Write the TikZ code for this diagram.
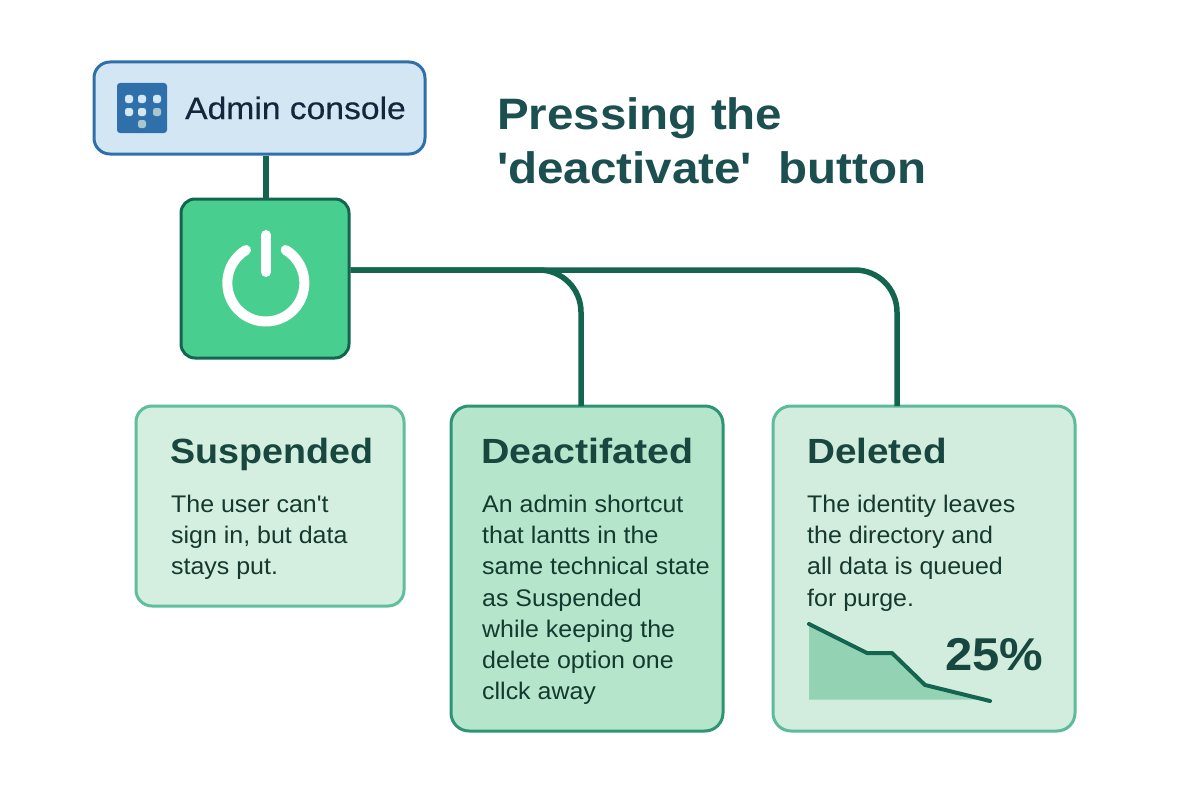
\documentclass[tikz,border=0pt]{standalone}
\usepackage{fontspec}
\setmainfont{Liberation Sans}
\newfontfamily\bodyf[FakeStretch=1.04]{Liberation Sans}
\newfontfamily\consolef[FakeStretch=1.085,FakeBold=0.5]{Liberation Sans}
\newfontfamily\headf[FakeStretch=1.075]{Liberation Sans}
\newfontfamily\headwf[FakeStretch=1.125]{Liberation Sans}
\newfontfamily\headmf[FakeStretch=1.105]{Liberation Sans}
\newfontfamily\titlef[FakeStretch=1.08]{Liberation Sans}
\newfontfamily\pctf[FakeStretch=1.065]{Liberation Sans}
\usetikzlibrary{calc}
\definecolor{ink}{HTML}{14392F}
\definecolor{headc}{HTML}{17473F}
\definecolor{titlec}{HTML}{1C4F50}
\definecolor{wire}{HTML}{14654F}
\definecolor{dotl}{HTML}{D3E6F4}
\definecolor{dotg}{HTML}{A9C6CC}
\definecolor{blueline}{HTML}{2F70AB}
\definecolor{bluefill}{HTML}{D3E6F4}
\definecolor{powerfill}{HTML}{48CF90}
\definecolor{suspline}{HTML}{5FBF9D}
\definecolor{suspfill}{HTML}{D4EEE0}
\definecolor{deactline}{HTML}{2E9474}
\definecolor{deactfill}{HTML}{B5E5CB}
\definecolor{delline}{HTML}{5CBB9B}
\definecolor{delfill}{HTML}{D2ECDD}
\definecolor{chartfill}{HTML}{93D3B3}
\definecolor{consoletext}{HTML}{12263C}
\tikzset{
  x=1pt,y=-1pt,
  box/.style={rounded corners=#1,inner sep=0pt,line width=3pt},
  wirepath/.style={draw=wire,line width=5.5pt},
  headtext/.style={anchor=base west,inner sep=0pt,text=headc,font=\fontsize{35}{35}\selectfont\bfseries},
  bodytext/.style={anchor=north west,inner sep=0pt,align=left,text=ink,font=\bodyf\fontsize{24}{31.2}\selectfont},
}
\begin{document}
\begin{tikzpicture}
\useasboundingbox (0,0) rectangle (1200,800);
\fill[white] (0,0) rectangle (1200,800);
\node[box=16pt,draw=blueline,fill=bluefill,minimum width=331pt,minimum height=92pt] (console) at (259.5,108) {};
\node[box=14pt,draw=wire,fill=powerfill,minimum width=168pt,minimum height=159pt] (power) at (265,278.5) {};
\node[box=16pt,draw=suspline,fill=suspfill,minimum width=268pt,minimum height=200pt] (susp) at (270,506) {};
\node[box=18pt,draw=deactline,fill=deactfill,minimum width=272pt,minimum height=325pt] (deact) at (587,568.5) {};
\node[box=18pt,draw=delline,fill=delfill,minimum width=302pt,minimum height=325pt] (del) at (924,568.5) {};
\coordinate (out) at (power.east |- 0,270);
\coordinate (topa) at (581,406);
\coordinate (topb) at (897,406);
\coordinate (cona) at (console.south -| 266,0);
\coordinate (conb) at (power.north -| 266,0);
\draw[wirepath] (cona) -- (conb);
\draw[wirepath,rounded corners=42pt] (out) -| (topa);
\draw[wirepath,rounded corners=42pt] (out) -| (topb);
% icon
\fill[blueline,rounded corners=3pt] (117,83) rectangle (167,133);
\foreach \px/\py/\c in {129/99/dotl,142/99/dotl,157/99/dotl,129/112/dotl,142/112/dotl,157/112/dotg,142/124/dotg}{
  \fill[\c,rounded corners=2.5pt] (\px-4,\py-4) rectangle (\px+4,\py+4);
}
% power glyph
\draw[white,line width=10pt,line cap=round] (266,235) -- (266,272);
\draw[white,line width=10pt,line cap=round] (246,250) arc[start angle=-121,end angle=-419,radius=38.5];
% chart
\fill[chartfill] (809,624) -- (867,653) -- (892,653) -- (925,685) -- (985,699.5) -- (809,699.5) -- cycle;
\draw[wire,line width=4pt,line cap=round,line join=round] (809,624) -- (867,653) -- (892,653) -- (925,685) -- (990,701);
% text
\node[anchor=base west,inner sep=0pt,text=consoletext,font=\consolef\fontsize{31}{31}\selectfont] (consolet) at (185,119) {Admin console};
\node[anchor=north west,inner sep=0pt,text=titlec,font=\titlef\fontsize{44}{54}\selectfont\bfseries,align=left] (title) at (497,97) {Pressing the\\'deactivate'\ \ button};
\node[headtext] (h1) at (170,463) {\headf\bfseries Suspended};
\node[headtext] (h2) at (481,463) {\headwf\bfseries Deactifated};
\node[headtext] (h3) at (807,463) {\headmf\bfseries Deleted};
\node[bodytext] (b1) at (171,495) {The user can't\\sign in, but data\\stays put.};
\node[bodytext] (b2) at (482,495) {An admin shortcut\\that lantts in the\\same technical state\\as Suspended\\while keeping the\\delete option one\\cllck away};
\node[bodytext] (b3) at (807,495) {The identity leaves\\the directory and\\all data is queued\\for purge.};
\node[anchor=base west,inner sep=0pt,text=headc,font=\pctf\fontsize{46}{46}\selectfont\bfseries] (pct) at (945,670) {25\%};
\end{tikzpicture}
\end{document}
